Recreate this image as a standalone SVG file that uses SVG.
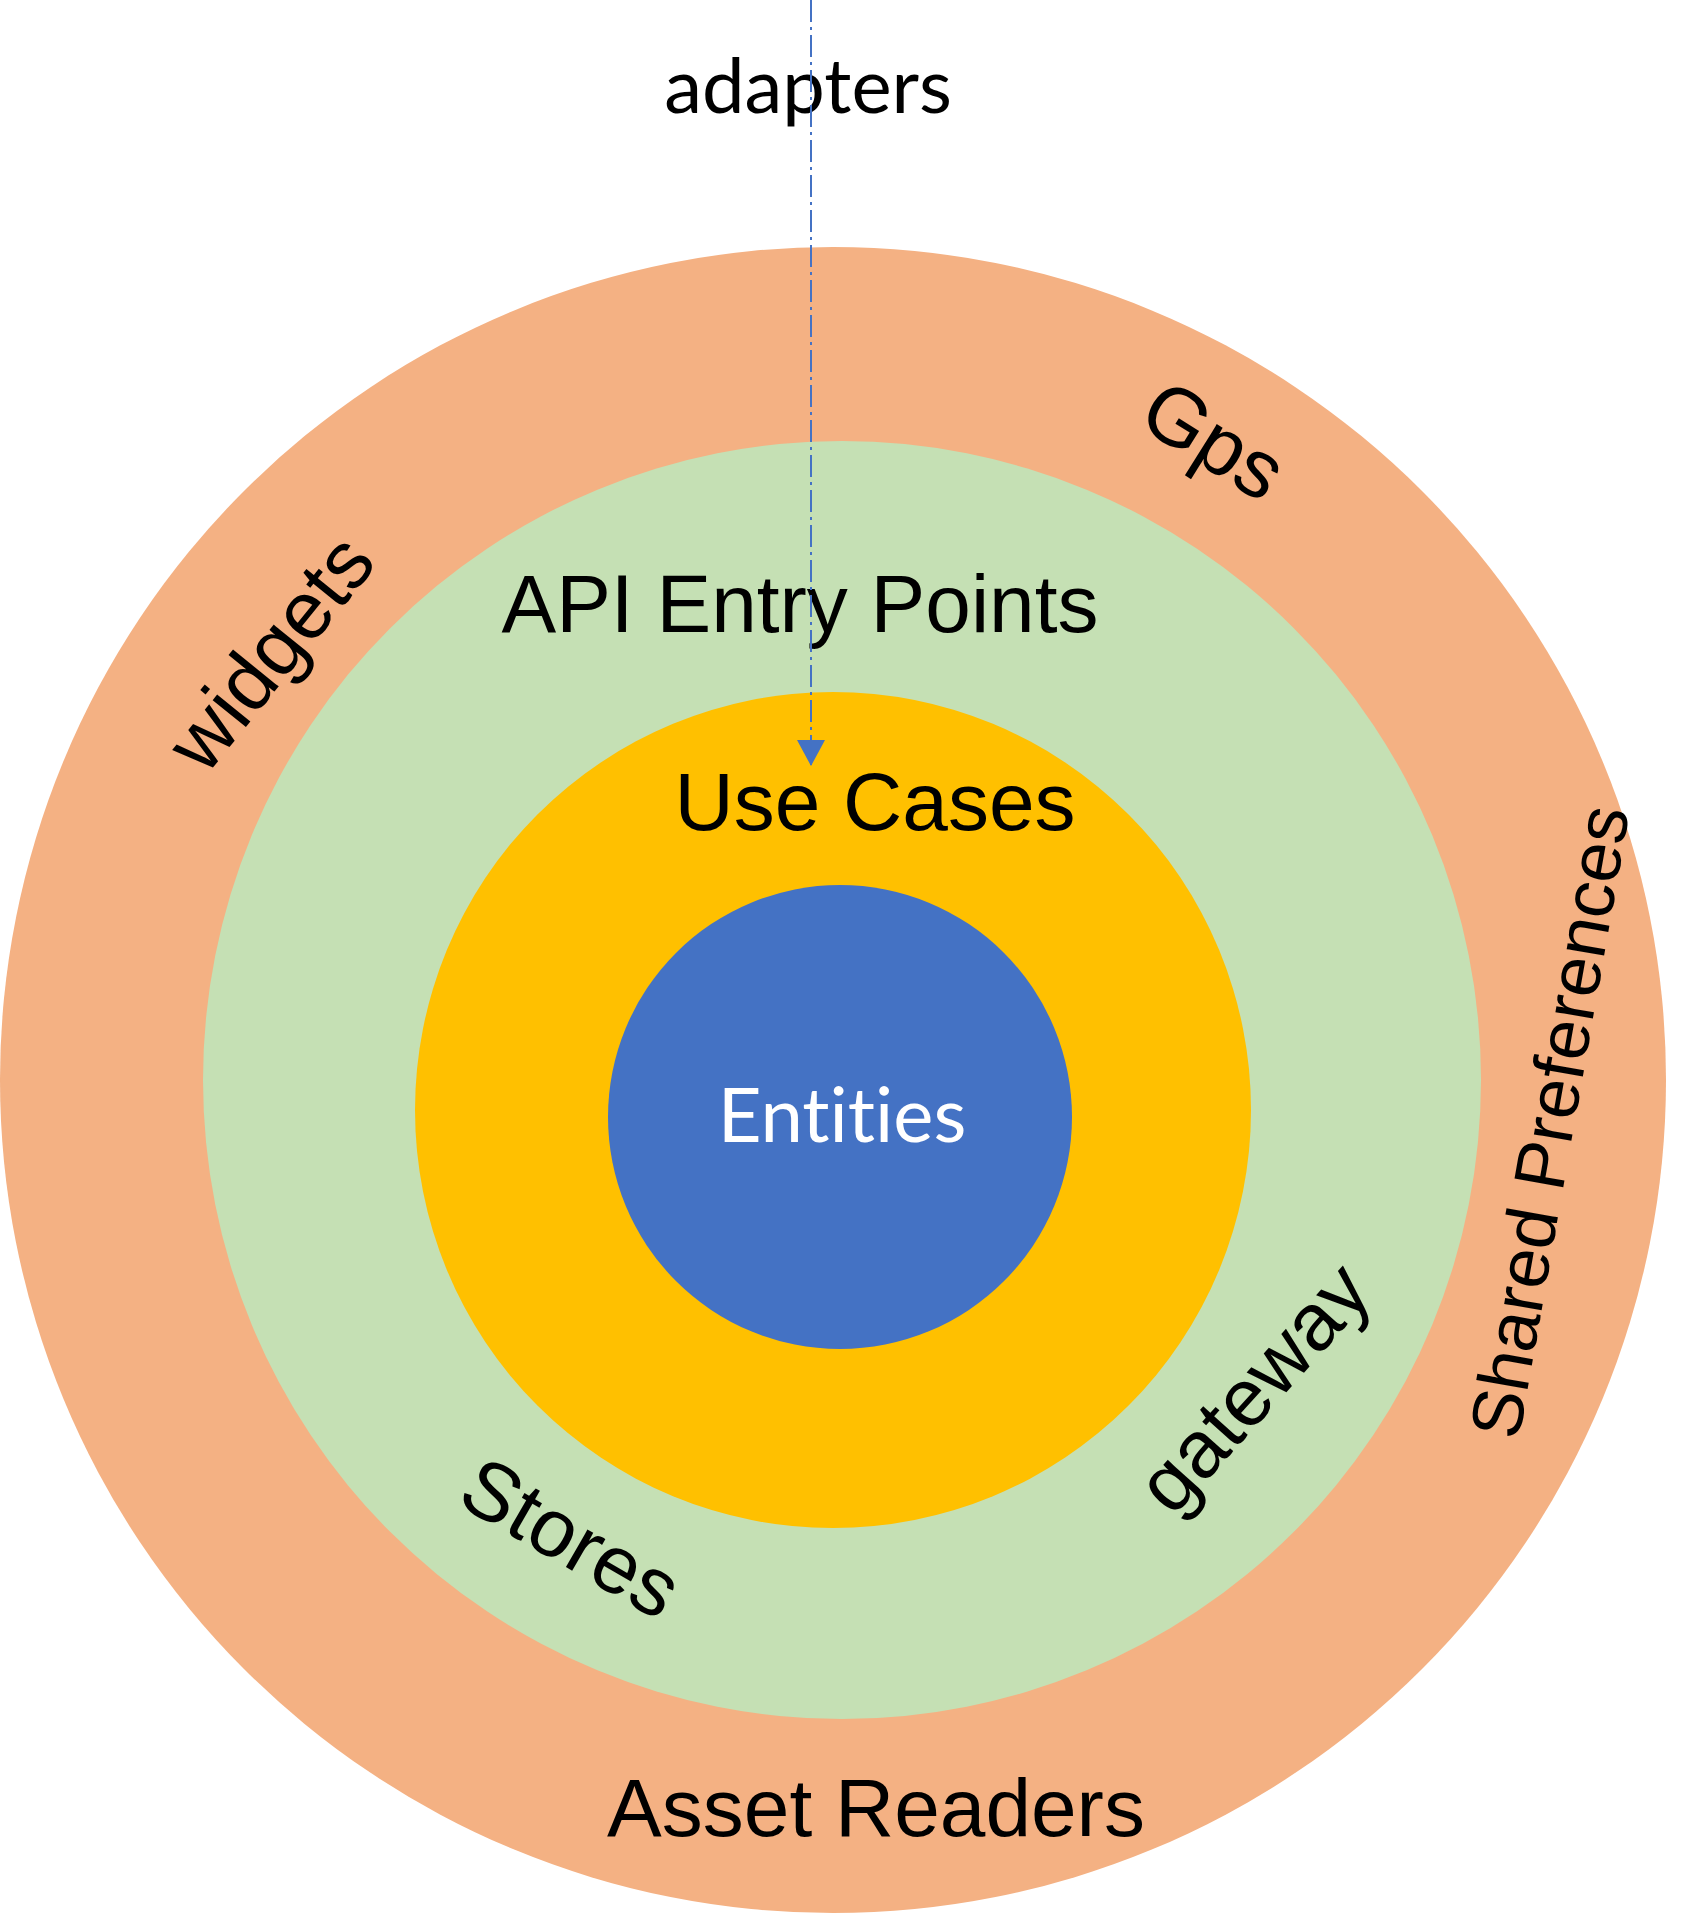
<svg xmlns="http://www.w3.org/2000/svg" width="1691" height="1914" viewBox="0 0 1691 1914">
  <style>
    .lbl { font-family: "Liberation Sans", Arial, sans-serif; fill: #000000; }
    .cal { font-family: Lato, "Open Sans", sans-serif; font-variant-ligatures: none; }
    .conn { stroke: #4472C4; stroke-width: 2; fill: none; stroke-dasharray: 22 5 3 5; }
  </style>
  <defs>
    <marker id="arrow" markerUnits="userSpaceOnUse" markerWidth="28" markerHeight="28" viewBox="0 0 28 28" refX="26" refY="14" orient="auto">
      <path d="M0,0 L26,14 L0,28 Z" fill="#4472C4"/>
    </marker>
  </defs>
  <rect width="1691" height="1914" fill="#ffffff"/>

  <g id="outer-layer">
    <circle cx="833" cy="1080" r="833" fill="#F4B183"/>
    <text class="lbl" font-size="81" text-anchor="middle" x="292" y="670" transform="rotate(-51 292 670)">widgets</text>
    <text class="lbl" font-size="82" text-anchor="middle" x="1199" y="464" transform="rotate(32 1199 464)">Gps</text>
    <text class="lbl" font-size="72" text-anchor="middle" x="1574" y="1126" transform="rotate(-80 1574 1126)">Shared Preferences</text>
    <text class="lbl" font-size="82" text-anchor="middle" x="876" y="1836">Asset Readers</text>
  </g>

  <g id="adapter-layer">
    <circle cx="842" cy="1080" r="639" fill="#C5E0B4"/>
    <text class="lbl" font-size="82" text-anchor="middle" x="800" y="632">API Entry Points</text>
    <text class="lbl" font-size="82" text-anchor="middle" x="557" y="1562" transform="rotate(30 557 1562)">Stores</text>
    <text class="lbl" font-size="81" text-anchor="middle" x="1274" y="1406" transform="rotate(-48 1274 1406)">gateway</text>
  </g>

  <g id="usecase-layer">
    <circle cx="833" cy="1110" r="418" fill="#FFC000"/>
    <text class="lbl" font-size="82" text-anchor="middle" x="875" y="830">Use Cases</text>
  </g>

  <g id="entities">
    <circle cx="840" cy="1117" r="232" fill="#4472C4"/>
    <text class="cal" font-size="76" fill="#ffffff" text-anchor="middle" x="842" y="1142">Entities</text>
  </g>

  <g id="adapters-label">
    <text class="cal" font-size="76" fill="#000000" text-anchor="middle" x="808" y="113">adapters</text>
  </g>

  <g id="connectors">
    <line class="conn" x1="811" y1="0" x2="811" y2="766" marker-end="url(#arrow)"/>
  </g>
</svg>
